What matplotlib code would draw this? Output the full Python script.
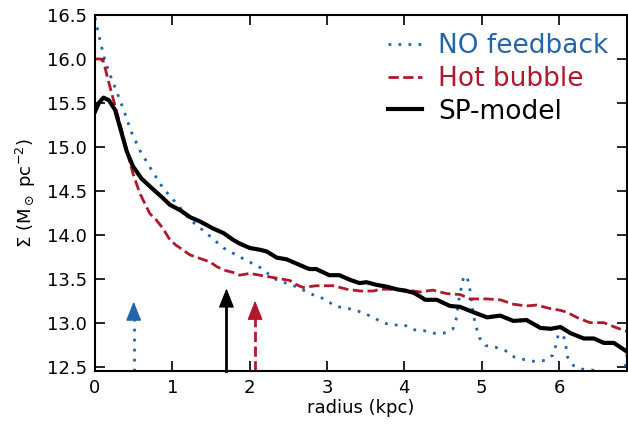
import matplotlib
matplotlib.use("Agg")
import matplotlib.pyplot as plt

# ---- data ----
r_nofb = [0.0, 0.065, 0.13, 0.19, 0.28, 0.37, 0.47, 0.58, 0.73, 0.88, 1.05, 1.23, 1.44, 1.66, 1.89,
          2.13, 2.34, 2.60, 2.86, 2.97, 3.10, 3.21, 3.34, 3.47, 3.60, 3.72, 3.85, 3.99, 4.11, 4.25,
          4.38, 4.51, 4.63, 4.67, 4.71, 4.74, 4.77, 4.81, 4.84, 4.86, 4.88, 4.90, 4.93, 4.97, 5.05,
          5.18, 5.31, 5.42, 5.55, 5.68, 5.82, 5.92, 5.96, 5.99, 6.03, 6.06, 6.09, 6.11, 6.19, 6.31,
          6.44, 6.55, 6.70, 6.80, 6.86, 6.88]
s_nofb = [16.47, 16.21, 15.98, 15.83, 15.63, 15.42, 15.17, 14.96, 14.74, 14.53, 14.36, 14.17, 14.02, 13.85, 13.74,
          13.63, 13.49, 13.41, 13.30, 13.27, 13.19, 13.17, 13.15, 13.11, 13.06, 13.00, 12.97, 12.98, 12.92, 12.91,
          12.88, 12.88, 12.93, 13.04, 13.28, 13.41, 13.53, 13.52, 13.43, 13.30, 13.18, 13.06, 12.95, 12.83, 12.74,
          12.72, 12.68, 12.61, 12.58, 12.56, 12.57, 12.63, 12.74, 12.86, 12.87, 12.85, 12.73, 12.61, 12.51, 12.47,
          12.46, 12.40, 12.38, 12.42, 12.51, 12.63]

r_hot = [0.0, 0.07, 0.11, 0.17, 0.24, 0.32, 0.41, 0.49, 0.58, 0.71, 0.79, 0.88, 0.97, 1.05, 1.10,
         1.23, 1.36, 1.49, 1.57, 1.66, 1.79, 1.87, 2.00, 2.13, 2.26, 2.39, 2.52, 2.61, 2.69, 2.86,
         3.08, 3.26, 3.43, 3.60, 3.69, 3.86, 4.03, 4.20, 4.37, 4.55, 4.72, 4.85, 5.07, 5.24, 5.41,
         5.58, 5.71, 5.89, 6.02, 6.10, 6.23, 6.40, 6.58, 6.75, 6.88]
s_hot = [16.00, 16.00, 15.97, 15.76, 15.53, 15.27, 14.96, 14.70, 14.47, 14.24, 14.17, 14.07, 13.94, 13.88, 13.85,
         13.77, 13.73, 13.69, 13.64, 13.60, 13.57, 13.54, 13.56, 13.54, 13.52, 13.50, 13.48, 13.43, 13.40, 13.42,
         13.42, 13.38, 13.36, 13.36, 13.38, 13.38, 13.37, 13.35, 13.37, 13.33, 13.32, 13.27, 13.27, 13.26, 13.21,
         13.19, 13.20, 13.16, 13.14, 13.12, 13.06, 13.00, 13.00, 12.94, 12.90]

r_sp = [0.0, 0.05, 0.11, 0.18, 0.26, 0.34, 0.41, 0.49, 0.60, 0.71, 0.85, 0.97, 1.10, 1.23, 1.36,
        1.53, 1.66, 1.79, 1.87, 2.00, 2.13, 2.22, 2.35, 2.48, 2.61, 2.77, 2.86, 3.03, 3.16, 3.29,
        3.42, 3.51, 3.64, 3.77, 3.90, 4.03, 4.12, 4.20, 4.27, 4.42, 4.59, 4.72, 4.89, 5.07, 5.24,
        5.41, 5.58, 5.76, 5.89, 6.02, 6.15, 6.32, 6.45, 6.58, 6.71, 6.88]
s_sp = [15.40, 15.50, 15.56, 15.53, 15.42, 15.17, 14.95, 14.78, 14.64, 14.55, 14.44, 14.34, 14.28, 14.20, 14.15,
        14.07, 14.02, 13.94, 13.90, 13.85, 13.83, 13.81, 13.74, 13.72, 13.67, 13.61, 13.61, 13.54, 13.54, 13.49,
        13.45, 13.46, 13.43, 13.41, 13.38, 13.36, 13.34, 13.30, 13.26, 13.26, 13.19, 13.18, 13.12, 13.06, 13.08,
        13.02, 13.03, 12.94, 12.93, 12.95, 12.88, 12.82, 12.82, 12.77, 12.77, 12.67]

labels = ["NO feedback", "Hot bubble", "SP-model"]
colors = ["#2166ac", "#b2182b", "black"]
arrow_r = [0.50, 2.07, 1.70]
arrow_tip = [13.24, 13.25, 13.39]

xticks = [0, 1, 2, 3, 4, 5, 6]
yticks = [12.5, 13.0, 13.5, 14.0, 14.5, 15.0, 15.5, 16.0, 16.5]

# ---- plot ----
fig = plt.figure(figsize=(6.28, 4.29), dpi=100)
ax = fig.add_axes([95/628, 1-371/429, 532/628, 356/429])

styles = [(0, (1, 2.6)), "--", "-"]
widths = [2.0, 2.0, 3.0]
series = [(r_nofb, s_nofb), (r_hot, s_hot), (r_sp, s_sp)]
for (rr, ss), lab, c, ls, lw in zip(series, labels, colors, styles, widths):
    ax.plot(rr, ss, linestyle=ls, color=c, lw=lw, label=lab)

ybot = 12.45
head = 0.14  # arrow head length in data units
for x, tip, c, ls in zip(arrow_r, arrow_tip, colors, styles):
    ax.plot([x, x], [ybot, tip - head], linestyle=ls, color=c, lw=2.0, clip_on=False)
    ax.annotate("", xy=(x, tip), xytext=(x, tip - head),
                arrowprops=dict(arrowstyle="-|>,head_length=0.6,head_width=0.24",
                                mutation_scale=20, color=c, lw=1.0,
                                shrinkA=0, shrinkB=0))

ax.set_xlim(0, 6.88)
ax.set_ylim(ybot, 16.5)
ax.set_xticks(xticks)
ax.set_yticks(yticks)
ax.set_yticklabels([f"{v:.1f}" for v in yticks])
ax.tick_params(direction="in", length=7, width=1.2, top=True, right=True,
               labelsize=13, pad=6)
for sp in ax.spines.values():
    sp.set_linewidth(1.5)

ax.set_xlabel("radius (kpc)", fontsize=13, labelpad=1)
ax.set_ylabel(r"$\Sigma$ (M$_\odot$ pc$^{-2}$)", fontsize=13, labelpad=6)

leg = ax.legend(loc="upper right", frameon=False, fontsize=19, handlelength=1.3,
                handletextpad=0.6, labelspacing=0.25, borderaxespad=0.3,
                labelcolor="linecolor")

fig.savefig("out.png", dpi=100)
